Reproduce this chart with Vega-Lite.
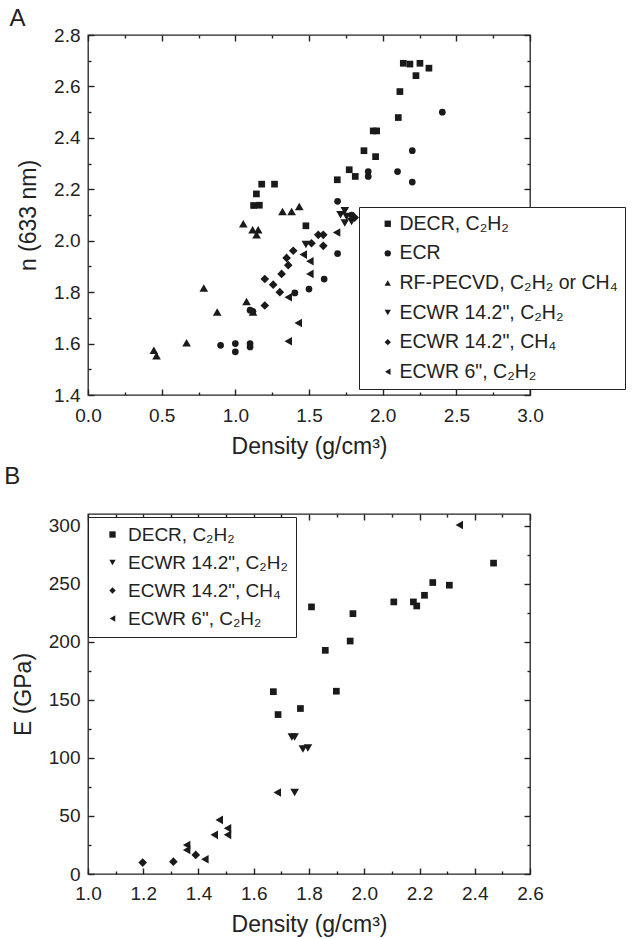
{
  "$schema": "https://vega.github.io/schema/vega-lite/v6.json",
  "padding": {"left": 3, "top": 6, "right": 0, "bottom": 0},
  "background": "white",
  "config": {
    "font": "Liberation Sans",
    "view": {"stroke": "#222", "strokeWidth": 1.3},
    "axis": {"grid": false, "domain": false, "zindex": 1, "labelFlush": false, "labelOverlap": false, "tickColor": "#222", "tickWidth": 1.4, "tickOpacity": 1, "labelColor": "#222", "titleColor": "#222", "labelFontSize": 19, "titleFontSize": 23, "titleFontWeight": "normal", "labelFont": "Liberation Sans", "titleFont": "Liberation Sans"},
    "title": {"anchor": "start", "frame": "bounds", "fontSize": 24, "fontWeight": "normal", "color": "#222", "font": "Liberation Sans"},
    "legend": {"labelFont": "Liberation Sans", "labelColor": "#222"}
  },
  "datasets": {
    "a": [
      {"d": 2.14, "v": 2.69, "s": "DECR, C₂H₂"},
      {"d": 2.185, "v": 2.687, "s": "DECR, C₂H₂"},
      {"d": 2.253, "v": 2.69, "s": "DECR, C₂H₂"},
      {"d": 2.314, "v": 2.671, "s": "DECR, C₂H₂"},
      {"d": 2.226, "v": 2.642, "s": "DECR, C₂H₂"},
      {"d": 2.117, "v": 2.58, "s": "DECR, C₂H₂"},
      {"d": 2.106, "v": 2.479, "s": "DECR, C₂H₂"},
      {"d": 1.936, "v": 2.427, "s": "DECR, C₂H₂"},
      {"d": 1.959, "v": 2.427, "s": "DECR, C₂H₂"},
      {"d": 1.873, "v": 2.35, "s": "DECR, C₂H₂"},
      {"d": 1.952, "v": 2.327, "s": "DECR, C₂H₂"},
      {"d": 1.773, "v": 2.276, "s": "DECR, C₂H₂"},
      {"d": 1.814, "v": 2.25, "s": "DECR, C₂H₂"},
      {"d": 1.692, "v": 2.237, "s": "DECR, C₂H₂"},
      {"d": 1.479, "v": 2.058, "s": "DECR, C₂H₂"},
      {"d": 1.179, "v": 2.22, "s": "DECR, C₂H₂"},
      {"d": 1.266, "v": 2.22, "s": "DECR, C₂H₂"},
      {"d": 1.143, "v": 2.182, "s": "DECR, C₂H₂"},
      {"d": 1.124, "v": 2.137, "s": "DECR, C₂H₂"},
      {"d": 1.163, "v": 2.138, "s": "DECR, C₂H₂"},
      {"d": 0.90, "v": 1.593, "s": "ECR"},
      {"d": 1.00, "v": 1.60, "s": "ECR"},
      {"d": 1.00, "v": 1.568, "s": "ECR"},
      {"d": 1.10, "v": 1.60, "s": "ECR"},
      {"d": 1.10, "v": 1.587, "s": "ECR"},
      {"d": 1.10, "v": 1.73, "s": "ECR"},
      {"d": 1.12, "v": 1.725, "s": "ECR"},
      {"d": 1.404, "v": 1.797, "s": "ECR"},
      {"d": 1.50, "v": 1.812, "s": "ECR"},
      {"d": 1.603, "v": 1.851, "s": "ECR"},
      {"d": 1.694, "v": 1.95, "s": "ECR"},
      {"d": 1.694, "v": 2.153, "s": "ECR"},
      {"d": 1.79, "v": 2.10, "s": "ECR"},
      {"d": 1.902, "v": 2.269, "s": "ECR"},
      {"d": 1.902, "v": 2.25, "s": "ECR"},
      {"d": 2.101, "v": 2.269, "s": "ECR"},
      {"d": 2.201, "v": 2.35, "s": "ECR"},
      {"d": 2.201, "v": 2.228, "s": "ECR"},
      {"d": 2.405, "v": 2.50, "s": "ECR"},
      {"d": 0.447, "v": 1.574, "s": "RF-PECVD, C₂H₂ or CH₄"},
      {"d": 0.465, "v": 1.553, "s": "RF-PECVD, C₂H₂ or CH₄"},
      {"d": 0.669, "v": 1.603, "s": "RF-PECVD, C₂H₂ or CH₄"},
      {"d": 0.786, "v": 1.816, "s": "RF-PECVD, C₂H₂ or CH₄"},
      {"d": 0.877, "v": 1.723, "s": "RF-PECVD, C₂H₂ or CH₄"},
      {"d": 1.076, "v": 1.764, "s": "RF-PECVD, C₂H₂ or CH₄"},
      {"d": 1.12, "v": 1.723, "s": "RF-PECVD, C₂H₂ or CH₄"},
      {"d": 1.054, "v": 2.066, "s": "RF-PECVD, C₂H₂ or CH₄"},
      {"d": 1.117, "v": 2.043, "s": "RF-PECVD, C₂H₂ or CH₄"},
      {"d": 1.144, "v": 2.023, "s": "RF-PECVD, C₂H₂ or CH₄"},
      {"d": 1.155, "v": 2.043, "s": "RF-PECVD, C₂H₂ or CH₄"},
      {"d": 1.32, "v": 2.114, "s": "RF-PECVD, C₂H₂ or CH₄"},
      {"d": 1.382, "v": 2.114, "s": "RF-PECVD, C₂H₂ or CH₄"},
      {"d": 1.434, "v": 2.133, "s": "RF-PECVD, C₂H₂ or CH₄"},
      {"d": 1.479, "v": 1.985, "s": "ECWR 14.2\", C₂H₂"},
      {"d": 1.714, "v": 2.101, "s": "ECWR 14.2\", C₂H₂"},
      {"d": 1.743, "v": 2.117, "s": "ECWR 14.2\", C₂H₂"},
      {"d": 1.755, "v": 2.094, "s": "ECWR 14.2\", C₂H₂"},
      {"d": 1.743, "v": 2.069, "s": "ECWR 14.2\", C₂H₂"},
      {"d": 1.789, "v": 2.075, "s": "ECWR 14.2\", C₂H₂"},
      {"d": 1.20, "v": 1.851, "s": "ECWR 14.2\", CH₄"},
      {"d": 1.257, "v": 1.829, "s": "ECWR 14.2\", CH₄"},
      {"d": 1.20, "v": 1.748, "s": "ECWR 14.2\", CH₄"},
      {"d": 1.302, "v": 1.80, "s": "ECWR 14.2\", CH₄"},
      {"d": 1.314, "v": 1.871, "s": "ECWR 14.2\", CH₄"},
      {"d": 1.348, "v": 1.933, "s": "ECWR 14.2\", CH₄"},
      {"d": 1.359, "v": 1.905, "s": "ECWR 14.2\", CH₄"},
      {"d": 1.393, "v": 1.961, "s": "ECWR 14.2\", CH₄"},
      {"d": 1.517, "v": 1.99, "s": "ECWR 14.2\", CH₄"},
      {"d": 1.563, "v": 2.023, "s": "ECWR 14.2\", CH₄"},
      {"d": 1.597, "v": 2.023, "s": "ECWR 14.2\", CH₄"},
      {"d": 1.597, "v": 1.98, "s": "ECWR 14.2\", CH₄"},
      {"d": 1.81, "v": 2.09, "s": "ECWR 14.2\", CH₄"},
      {"d": 1.359, "v": 1.609, "s": "ECWR 6\", C₂H₂"},
      {"d": 1.427, "v": 1.68, "s": "ECWR 6\", C₂H₂"},
      {"d": 1.359, "v": 1.78, "s": "ECWR 6\", C₂H₂"},
      {"d": 1.506, "v": 1.871, "s": "ECWR 6\", C₂H₂"},
      {"d": 1.506, "v": 1.92, "s": "ECWR 6\", C₂H₂"},
      {"d": 1.461, "v": 1.946, "s": "ECWR 6\", C₂H₂"},
      {"d": 1.687, "v": 2.032, "s": "ECWR 6\", C₂H₂"}
    ],
    "b": [
      {"d": 1.671, "v": 157, "s": "DECR, C₂H₂"},
      {"d": 1.688, "v": 137.3, "s": "DECR, C₂H₂"},
      {"d": 1.769, "v": 142.5, "s": "DECR, C₂H₂"},
      {"d": 1.809, "v": 230, "s": "DECR, C₂H₂"},
      {"d": 1.859, "v": 192.6, "s": "DECR, C₂H₂"},
      {"d": 1.899, "v": 157.4, "s": "DECR, C₂H₂"},
      {"d": 1.949, "v": 200.6, "s": "DECR, C₂H₂"},
      {"d": 1.959, "v": 224.2, "s": "DECR, C₂H₂"},
      {"d": 2.107, "v": 234.3, "s": "DECR, C₂H₂"},
      {"d": 2.178, "v": 234.3, "s": "DECR, C₂H₂"},
      {"d": 2.19, "v": 230.8, "s": "DECR, C₂H₂"},
      {"d": 2.218, "v": 240, "s": "DECR, C₂H₂"},
      {"d": 2.248, "v": 251, "s": "DECR, C₂H₂"},
      {"d": 2.308, "v": 248.7, "s": "DECR, C₂H₂"},
      {"d": 2.468, "v": 267.7, "s": "DECR, C₂H₂"},
      {"d": 1.738, "v": 118, "s": "ECWR 14.2\", C₂H₂"},
      {"d": 1.748, "v": 118, "s": "ECWR 14.2\", C₂H₂"},
      {"d": 1.778, "v": 107.7, "s": "ECWR 14.2\", C₂H₂"},
      {"d": 1.796, "v": 108.5, "s": "ECWR 14.2\", C₂H₂"},
      {"d": 1.748, "v": 70.2, "s": "ECWR 14.2\", C₂H₂"},
      {"d": 1.198, "v": 9.8, "s": "ECWR 14.2\", CH₄"},
      {"d": 1.309, "v": 10.6, "s": "ECWR 14.2\", CH₄"},
      {"d": 1.39, "v": 16.4, "s": "ECWR 14.2\", CH₄"},
      {"d": 1.685, "v": 70.2, "s": "ECWR 6\", C₂H₂"},
      {"d": 1.475, "v": 46.6, "s": "ECWR 6\", C₂H₂"},
      {"d": 1.505, "v": 39.4, "s": "ECWR 6\", C₂H₂"},
      {"d": 1.505, "v": 33.7, "s": "ECWR 6\", C₂H₂"},
      {"d": 1.457, "v": 33.7, "s": "ECWR 6\", C₂H₂"},
      {"d": 1.357, "v": 25, "s": "ECWR 6\", C₂H₂"},
      {"d": 1.357, "v": 20.7, "s": "ECWR 6\", C₂H₂"},
      {"d": 1.423, "v": 12.7, "s": "ECWR 6\", C₂H₂"},
      {"d": 2.344, "v": 300.5, "s": "ECWR 6\", C₂H₂"}
    ]
  },
  "resolve": {"scale": {"shape": "independent"}, "legend": {"shape": "independent"}},
  "spacing": 5,
  "vconcat": [
    {
      "title": {"text": "A", "dx": -8, "offset": -5},
      "width": 442,
      "height": 360,
      "data": {"name": "a"},
      "resolve": {"axis": {"x": "independent", "y": "independent"}},
      "layer": [
        {
          "mark": {"type": "point", "filled": true, "opacity": 1, "color": "#1a1a1a"},
          "encoding": {
            "x": {"field": "d", "type": "quantitative", "scale": {"domain": [0, 3], "nice": false}, "axis": {"orient": "bottom", "values": [0, 0.5, 1, 1.5, 2, 2.5, 3], "format": ".1f", "ticks": true, "tickSize": 6, "offset": -6, "labelPadding": 11, "title": "Density (g/cm³)", "titlePadding": 10}},
            "y": {"field": "v", "type": "quantitative", "scale": {"domain": [1.4, 2.8], "nice": false, "zero": false}, "axis": {"orient": "left", "values": [1.4, 1.6, 1.8, 2.0, 2.2, 2.4, 2.6, 2.8], "format": ".1f", "ticks": true, "tickSize": 6, "offset": -6, "labelPadding": 8, "title": "n (633 nm)", "titlePadding": 13}},
            "shape": {"field": "s", "type": "nominal", "scale": {"domain": ["DECR, C₂H₂", "ECR", "RF-PECVD, C₂H₂ or CH₄", "ECWR 14.2\", C₂H₂", "ECWR 14.2\", CH₄", "ECWR 6\", C₂H₂"], "range": ["square", "circle", "triangle-up", "triangle-down", "diamond", "triangle-left"]},
              "legend": {"orient": "none", "legendX": 271, "legendY": 172, "title": null, "strokeColor": "#222", "fillColor": "white", "padding": 7, "labelFontSize": 19.5, "symbolSize": 40, "rowPadding": 8.6, "labelOffset": 2, "symbolOffset": 12, "symbolFillColor": "#1a1a1a", "symbolStrokeColor": "#1a1a1a", "labelLimit": 400}},
            "size": {"condition": {"test": "datum.s === 'DECR, C₂H₂' || datum.s === 'ECR'", "value": 45}, "value": 75}
          }
        },
        {
          "mark": {"type": "point", "opacity": 0},
          "encoding": {
            "x": {"field": "d", "type": "quantitative", "scale": {"domain": [0, 3], "nice": false}, "axis": {"orient": "top", "values": [0, 0.5, 1, 1.5, 2, 2.5, 3], "labels": false, "tickSize": 6, "offset": -6, "title": null}},
            "y": {"field": "v", "type": "quantitative", "scale": {"domain": [1.4, 2.8], "nice": false, "zero": false}, "axis": {"orient": "right", "values": [1.4, 1.6, 1.8, 2.0, 2.2, 2.4, 2.6, 2.8], "labels": false, "tickSize": 6, "offset": -6, "title": null}}
          }
        },
        {
          "mark": {"type": "point", "opacity": 0},
          "encoding": {
            "x": {"field": "d", "type": "quantitative", "scale": {"domain": [0, 3], "nice": false}, "axis": {"orient": "bottom", "values": [0.25, 0.75, 1.25, 1.75, 2.25, 2.75], "labels": false, "tickSize": 3, "offset": -3, "title": null}},
            "y": {"field": "v", "type": "quantitative", "scale": {"domain": [1.4, 2.8], "nice": false, "zero": false}, "axis": {"orient": "left", "values": [1.5, 1.7, 1.9, 2.1, 2.3, 2.5, 2.7], "labels": false, "tickSize": 3, "offset": -3, "title": null}}
          }
        },
        {
          "mark": {"type": "point", "opacity": 0},
          "encoding": {
            "x": {"field": "d", "type": "quantitative", "scale": {"domain": [0, 3], "nice": false}, "axis": {"orient": "top", "values": [0.25, 0.75, 1.25, 1.75, 2.25, 2.75], "labels": false, "tickSize": 3, "offset": -3, "title": null}},
            "y": {"field": "v", "type": "quantitative", "scale": {"domain": [1.4, 2.8], "nice": false, "zero": false}, "axis": {"orient": "right", "values": [1.5, 1.7, 1.9, 2.1, 2.3, 2.5, 2.7], "labels": false, "tickSize": 3, "offset": -3, "title": null}}
          }
        }
      ]
    },
    {
      "title": {"text": "B", "dx": -8, "offset": 24},
      "width": 442,
      "height": 360,
      "data": {"name": "b"},
      "resolve": {"axis": {"x": "independent", "y": "independent"}},
      "layer": [
        {
          "mark": {"type": "point", "filled": true, "opacity": 1, "color": "#1a1a1a"},
          "encoding": {
            "x": {"field": "d", "type": "quantitative", "scale": {"domain": [1, 2.6], "nice": false, "zero": false}, "axis": {"orient": "bottom", "values": [1, 1.2, 1.4, 1.6, 1.8, 2, 2.2, 2.4, 2.6], "format": ".1f", "ticks": true, "tickSize": 6, "offset": -6, "labelPadding": 10, "title": "Density (g/cm³)", "titlePadding": 10}},
            "y": {"field": "v", "type": "quantitative", "scale": {"domain": [0, 310], "nice": false}, "axis": {"orient": "left", "values": [0, 50, 100, 150, 200, 250, 300], "format": "d", "ticks": true, "tickSize": 6, "offset": -6, "labelPadding": 8, "title": "E (GPa)", "titlePadding": 13}},
            "shape": {"field": "s", "type": "nominal", "scale": {"domain": ["DECR, C₂H₂", "ECWR 14.2\", C₂H₂", "ECWR 14.2\", CH₄", "ECWR 6\", C₂H₂"], "range": ["square", "triangle-down", "diamond", "triangle-left"]},
              "legend": {"orient": "none", "legendX": 0, "legendY": 3, "title": null, "strokeColor": "#222", "fillColor": "white", "padding": 8, "labelFontSize": 19, "symbolSize": 40, "rowPadding": 8, "labelOffset": 6, "symbolOffset": 7, "symbolFillColor": "#1a1a1a", "symbolStrokeColor": "#1a1a1a", "labelLimit": 400}},
            "size": {"condition": {"test": "datum.s === 'DECR, C₂H₂'", "value": 45}, "value": 75}
          }
        },
        {
          "mark": {"type": "point", "opacity": 0},
          "encoding": {
            "x": {"field": "d", "type": "quantitative", "scale": {"domain": [1, 2.6], "nice": false, "zero": false}, "axis": {"orient": "top", "values": [1, 1.2, 1.4, 1.6, 1.8, 2, 2.2, 2.4, 2.6], "labels": false, "tickSize": 6, "offset": -6, "title": null}},
            "y": {"field": "v", "type": "quantitative", "scale": {"domain": [0, 310], "nice": false}, "axis": {"orient": "right", "values": [0, 50, 100, 150, 200, 250, 300], "labels": false, "tickSize": 6, "offset": -6, "title": null}}
          }
        },
        {
          "mark": {"type": "point", "opacity": 0},
          "encoding": {
            "x": {"field": "d", "type": "quantitative", "scale": {"domain": [1, 2.6], "nice": false, "zero": false}, "axis": {"orient": "bottom", "values": [1.1, 1.3, 1.5, 1.7, 1.9, 2.1, 2.3, 2.5], "labels": false, "tickSize": 3, "offset": -3, "title": null}},
            "y": {"field": "v", "type": "quantitative", "scale": {"domain": [0, 310], "nice": false}, "axis": {"orient": "left", "values": [25, 75, 125, 175, 225, 275], "labels": false, "tickSize": 3, "offset": -3, "title": null}}
          }
        },
        {
          "mark": {"type": "point", "opacity": 0},
          "encoding": {
            "x": {"field": "d", "type": "quantitative", "scale": {"domain": [1, 2.6], "nice": false, "zero": false}, "axis": {"orient": "top", "values": [1.1, 1.3, 1.5, 1.7, 1.9, 2.1, 2.3, 2.5], "labels": false, "tickSize": 3, "offset": -3, "title": null}},
            "y": {"field": "v", "type": "quantitative", "scale": {"domain": [0, 310], "nice": false}, "axis": {"orient": "right", "values": [25, 75, 125, 175, 225, 275], "labels": false, "tickSize": 3, "offset": -3, "title": null}}
          }
        }
      ]
    }
  ]
}
